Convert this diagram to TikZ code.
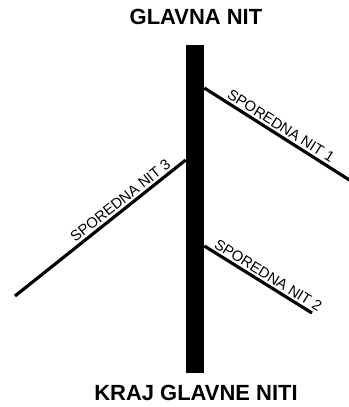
\documentclass[tikz,border=0pt]{standalone}
\usepackage{fontspec}
\setmainfont{Liberation Sans}
\usetikzlibrary{positioning, calc}

\begin{document}
\begin{tikzpicture}[
    x=0.02cm, y=-0.02cm,
    glavnanit/.style={fill=black, minimum width=0.36cm, minimum height=6.56cm, inner sep=0pt},
    naslov/.style={font=\fontsize{12.5}{14}\selectfont\bfseries, inner sep=0pt},
    grana/.style={line width=1.8pt},
    oznaka/.style={font=\fontsize{8.4}{9}\selectfont, sloped, above, inner sep=1.2pt}
]
\useasboundingbox (0,0) rectangle (349,407);

% Nodes
\node[glavnanit] (glavna) at (195,209) {};
\node[naslov] (vrh) at (196,17) {GLAVNA NIT};
\node[naslov] (dno) at (196,393) {KRAJ GLAVNE NITI};

% Ends of the side threads
\coordinate (od1) at (glavna.east |- 0,88);
\coordinate (kraj1) at (351,181);
\coordinate (od2) at (glavna.east |- 0,246);
\coordinate (kraj2) at (312,313);
\coordinate (od3) at (glavna.west |- 0,160);
\coordinate (kraj3) at (15,296);

% Side threads
\draw[grana] (od1) -- (kraj1) node[oznaka, pos=0.49] {SPOREDNA NIT 1};
\draw[grana] (od2) -- (kraj2) node[oznaka, pos=0.55] {SPOREDNA NIT 2};
\draw[grana] (kraj3) -- (od3) node[oznaka, pos=0.65] {SPOREDNA NIT 3};

\end{tikzpicture}
\end{document}
